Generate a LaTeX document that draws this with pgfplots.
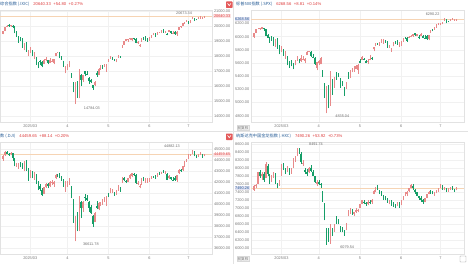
\documentclass[border=0pt]{standalone}
\usepackage{fontspec}
\setmainfont{Liberation Sans}
\newfontfamily\cjk{Noto Sans CJK SC}
\usepackage{pgfplots}
\usepackage{pgfplotstable}
\pgfplotsset{compat=1.18}
\definecolor{upc}{RGB}{232,138,138}
\definecolor{dnc}{RGB}{22,158,104}
\definecolor{gridc}{RGB}{241,241,241}
\definecolor{linec}{RGB}{226,226,226}
\definecolor{tickc}{RGB}{120,120,120}
\definecolor{titc}{RGB}{38,92,150}
\definecolor{numc}{RGB}{222,60,60}
\definecolor{curl}{RGB}{246,212,180}
\definecolor{curbgl}{RGB}{252,228,228}
\definecolor{curbgr}{RGB}{226,226,242}
\definecolor{annc}{RGB}{110,110,110}

% i open high low close
\pgfplotstableread{
i o h l c
0 19480 19665 19440 19649
1 19680 19950 19650 19945
2 19950 20045 19930 20026
3 20070 20110 19960 20041
4 20000 20070 19950 20056
5 20020 20040 19840 19962
6 19970 19990 19500 19524
7 19600 19650 19260 19286
8 19260 19310 18900 19026
9 19100 19270 18980 19075
10 19180 19210 18520 18544
11 18550 18860 18380 18847
12 18900 18960 18290 18350
13 18190 18430 17970 18285
14 18300 18620 18180 18553
15 18280 18420 18000 18069
16 18000 18280 17770 18196
17 17900 17920 17400 17468
18 17450 17620 17200 17436
19 17680 17750 17400 17648
20 17630 17660 17240 17303
21 17480 17790 17450 17754
22 17720 17910 17650 17808
23 17730 17740 17440 17504
24 17560 17890 17530 17750
25 17600 17830 17590 17692
26 17520 17800 17450 17784
27 18020 18200 17980 18188
28 18220 18300 18180 18272
29 18230 18260 17850 17899
30 17880 17980 17760 17804
31 17690 17700 17300 17323
32 17040 17310 16850 17299
33 17200 17480 17100 17450
34 17260 17660 17240 17601
35 16690 16890 16540 16551
36 16200 16300 15570 15588
37 14900 16300 14784 15603
38 16200 16310 15200 15268
39 15200 17140 15180 17125
40 16750 16790 16000 16387
41 16400 16750 16280 16724
42 17000 17020 16640 16832
43 16830 16970 16750 16823
44 16550 16620 16150 16307
45 16400 16440 16200 16287
46 16080 16100 15740 15870
47 16050 16340 16030 16300
48 16890 17000 16620 16708
49 16750 17180 16720 17166
50 17170 17390 17080 17383
51 17380 17430 17150 17366
52 17300 17480 17280 17461
53 17180 17470 16950 17446
54 17670 17800 17620 17710
55 17840 18000 17820 17978
56 17890 17950 17760 17844
57 17720 17780 17640 17690
58 17720 17800 17580 17738
59 17900 18080 17840 17929
60 17950 17990 17880 17929
61 18650 18710 18550 18708
62 18750 19020 18740 19010
63 19020 19160 18990 19146
64 19050 19120 18950 19112
65 19110 19220 19040 19211
66 19050 19220 19020 19215
67 19200 19220 19080 19143
68 19110 19180 18840 18873
69 18850 19020 18830 18925
70 18650 18820 18620 18737
71 18950 19200 18940 19199
72 19200 19250 19080 19101
73 19330 19350 18990 19176
74 19130 19170 18960 19114
75 19050 19250 18980 19243
76 19220 19420 19190 19399
77 19410 19500 19390 19460
78 19470 19560 19260 19299
79 19440 19570 19410 19530
80 19560 19620 19530 19591
81 19600 19730 19560 19715
82 19750 19780 19550 19615
83 19570 19680 19550 19662
84 19450 19550 19370 19407
85 19600 19720 19580 19701
86 19650 19690 19490 19521
87 19520 19650 19490 19546
88 19630 19640 19420 19447
89 19440 19640 19350 19631
90 19760 19920 19740 19913
91 19950 19990 19880 19974
92 20000 20180 19990 20168
93 20210 20280 20160 20273
94 20340 20380 20280 20370
95 20300 20320 20100 20202
96 20200 20400 20180 20394
97 20460 20620 20450 20601
98 20510 20530 20330 20412
99 20450 20490 20370 20418
100 20500 20630 20480 20611
101 20600 20673.34 20490 20630
102 20490 20600 20470 20586
103 20550 20660 20520 20640.33
}\ixic

\pgfplotstableread{
i o h l c
0 6000 6055 5985 6051
1 6060 6117 6052 6115
2 6115 6128 6110 6115
3 6121 6130 6103 6129
4 6117 6147 6111 6144
5 6134 6134 6085 6117
6 6114 6115 6009 6013
7 6027 6044 5977 5983
8 5982 5993 5909 5955
9 5970 6010 5937 5956
10 5981 5994 5858 5861
11 5856 5959 5837 5955
12 5968 5986 5810 5850
13 5811 5866 5732 5778
14 5781 5860 5762 5843
15 5787 5812 5711 5739
16 5726 5783 5667 5770
17 5705 5705 5565 5615
18 5603 5636 5529 5572
19 5624 5642 5547 5599
20 5594 5598 5505 5522
21 5563 5645 5563 5639
22 5635 5704 5628 5675
23 5655 5660 5598 5615
24 5632 5715 5622 5675
25 5646 5711 5640 5663
26 5630 5672 5598 5668
27 5718 5775 5718 5768
28 5775 5786 5763 5777
29 5772 5776 5694 5712
30 5696 5733 5682 5693
31 5679 5685 5572 5581
32 5527 5620 5489 5612
33 5597 5651 5572 5633
34 5581 5695 5578 5671
35 5492 5500 5390 5397
36 5293 5293 5069 5074
37 4954 5246 4835.04 5062
38 5193 5267 4911 4983
39 4966 5481 4950 5457
40 5353 5353 5115 5268
41 5255 5381 5221 5363
42 5441 5459 5349 5406
43 5412 5450 5387 5397
44 5335 5367 5220 5276
45 5305 5328 5256 5283
46 5232 5233 5101 5158
47 5207 5309 5207 5288
48 5395 5469 5356 5376
49 5381 5489 5372 5485
50 5489 5528 5456 5525
51 5529 5553 5468 5529
52 5508 5571 5505 5561
53 5499 5581 5434 5569
54 5625 5659 5597 5604
55 5646 5700 5645 5687
56 5655 5683 5644 5650
57 5625 5641 5598 5607
58 5613 5655 5592 5631
59 5657 5720 5641 5664
60 5679 5691 5646 5660
61 5807 5845 5778 5844
62 5855 5906 5854 5887
63 5895 5906 5876 5892
64 5880 5917 5865 5917
65 5929 5959 5907 5958
66 5902 5969 5895 5964
67 5944 5953 5909 5941
68 5922 5939 5830 5845
69 5841 5878 5826 5842
70 5782 5829 5768 5803
71 5854 5924 5854 5922
72 5925 5929 5886 5889
73 5939 5944 5876 5912
74 5903 5922 5842 5912
75 5897 5937 5862 5936
76 5938 5981 5922 5970
77 5979 5990 5966 5971
78 5985 5999 5921 5939
79 5987 6017 5987 6000
80 6005 6021 5993 6006
81 6010 6043 6000 6038
82 6049 6060 6013 6022
83 6010 6046 6006 6045
84 6000 6027 5963 5977
85 6005 6051 6005 6033
86 6012 6024 5975 5982
87 5987 6018 5971 5981
88 6004 6019 5953 5967
89 5970 6026 5943 6025
90 6062 6101 6062 6092
91 6105 6109 6081 6092
92 6112 6146 6108 6141
93 6151 6187 6133 6173
94 6193 6215 6177 6205
95 6187 6210 6177 6198
96 6193 6227 6188 6227
97 6243 6285 6241 6279
98 6257 6262 6201 6230
99 6238 6242 6217 6226
100 6240 6269 6235 6263
101 6267 6290.22 6250 6280
102 6255 6269 6249 6260
103 6251 6272 6245 6268.56
}\spx

\pgfplotstableread{
i o h l c
0 44100 44400 43900 44368
1 44400 44750 44350 44711
2 44700 44750 44500 44546
3 44560 44650 44350 44556
4 44500 44680 44400 44628
5 44600 44620 43900 44177
6 44150 44200 43400 43428
7 43450 43700 43350 43461
8 43450 43700 43200 43621
9 43650 43800 43300 43433
10 43500 43700 43200 43240
11 43250 43880 42950 43841
12 43850 44000 43000 43191
13 43100 43250 42100 42521
14 42550 43100 42300 43006
15 42900 43000 42300 42579
16 42550 42900 42200 42802
17 42600 42700 41800 41912
18 41900 42100 41250 41433
19 41600 41800 41150 41350
20 41300 41400 40700 40814
21 40900 41550 40880 41488
22 41500 41900 41450 41842
23 41800 41850 41400 41581
24 41600 42100 41550 41965
25 41900 42200 41700 41953
26 41800 42050 41550 41985
27 42300 42700 42250 42583
28 42600 42700 42400 42588
29 42600 42800 42300 42455
30 42400 42500 42100 42300
31 42200 42250 41550 41584
32 41300 42050 41100 42002
33 41900 42100 41550 41989
34 41800 42350 41700 42226
35 41500 41600 40500 40546
36 40300 40400 38300 38315
37 37500 38900 36611.78 37966
38 38900 39300 37500 37646
39 37600 40700 37500 40609
40 40200 40300 38700 39594
41 39600 40300 39300 40213
42 40600 40900 40300 40525
43 40500 40800 40300 40369
44 40200 40300 39300 39669
45 39700 39900 39100 39142
46 38900 38950 37900 38170
47 38400 39300 38350 39187
48 39800 40300 39500 39607
49 39500 40150 39400 40093
50 40000 40200 39800 40114
51 40100 40400 39900 40228
52 40200 40600 40150 40528
53 40300 40700 39800 40669
54 40800 41000 40600 40753
55 41000 41400 40950 41317
56 41200 41350 41000 41219
57 41000 41100 40750 40829
58 40900 41250 40800 41114
59 41300 41700 41200 41368
60 41400 41500 41100 41250
61 42000 42450 41900 42410
62 42300 42400 42050 42141
63 42100 42200 41900 42052
64 42000 42350 41950 42323
65 42300 42700 42250 42655
66 42500 42800 42400 42792
67 42700 42800 42550 42677
68 42600 42700 41800 41860
69 41850 42050 41700 41859
70 41500 41800 41400 41603
71 41800 42350 41750 42343
72 42350 42450 42050 42099
73 42200 42300 41900 42216
74 42100 42300 41900 42270
75 42250 42350 42000 42306
76 42300 42550 42250 42520
77 42500 42550 42350 42428
78 42450 42600 42250 42319
79 42500 42800 42450 42763
80 42800 42850 42650 42762
81 42800 42900 42700 42867
82 42900 43100 42800 42866
83 42850 43000 42700 42968
84 42700 42800 42150 42198
85 42300 42600 42250 42515
86 42400 42450 42150 42216
87 42200 42400 42100 42172
88 42300 42500 42100 42207
89 42200 42600 42000 42582
90 42800 43150 42750 43089
91 43100 43150 42900 42983
92 43050 43400 43000 43387
93 43400 43850 43350 43819
94 43900 44100 43800 44095
95 44100 44550 44050 44495
96 44450 44550 44350 44485
97 44550 44882.13 44500 44829
98 44700 44750 44300 44406
99 44400 44450 44150 44241
100 44300 44500 44250 44458
101 44500 44700 44400 44651
102 44500 44550 44200 44372
103 44350 44500 44300 44459.65
}\dji

\pgfplotstableread{
i o h l c
0 7450 7560 7420 7530
1 7540 7600 7480 7560
2 7600 7900 7580 7880
3 7880 7950 7750 7780
4 7800 7880 7700 7830
5 7850 7900 7650 7700
6 7750 8150 7740 8080
7 8050 8100 7800 7850
8 7800 7850 7600 7650
9 7680 7820 7640 7780
10 7800 7900 7750 7880
11 7850 7860 7600 7640
12 7600 7620 7480 7520
13 7600 7700 7550 7680
14 7800 8100 7780 8060
15 8050 8120 7950 8000
16 7980 8000 7850 7900
17 7950 8050 7880 7950
18 7900 7980 7820 7870
19 7900 8000 7850 7980
20 8000 8250 7990 8220
21 8250 8300 8150 8280
22 8300 8480 8280 8450
23 8440 8491.74 8350 8400
24 8350 8380 8100 8150
25 8100 8180 8050 8120
26 7950 8000 7850 7880
27 7900 7960 7800 7850
28 7880 8020 7860 8000
29 8000 8060 7900 7920
30 7900 7950 7780 7800
31 7780 7800 7620 7640
32 7600 7680 7540 7650
33 7650 7700 7560 7600
34 7580 7620 7500 7560
35 7400 7420 7150 7180
36 7100 7120 6680 6700
37 6400 6500 6079.54 6200
38 6350 6500 6150 6200
39 6250 6600 6100 6550
40 6450 6500 6300 6380
41 6420 6600 6400 6560
42 6700 6800 6600 6650
43 6650 6720 6580 6620
44 6500 6550 6400 6450
45 6480 6520 6380 6420
46 6400 6450 6300 6380
47 6450 6620 6430 6600
48 6800 6950 6780 6900
49 6880 6980 6850 6950
50 6920 6960 6820 6850
51 6850 6900 6780 6880
52 6900 6980 6870 6950
53 6920 6960 6880 6930
54 7000 7100 6980 7080
55 7100 7200 7080 7180
56 7150 7180 7080 7120
57 7120 7150 7050 7080
58 7100 7180 7060 7150
59 7130 7200 7080 7120
60 7150 7220 7100 7200
61 7350 7450 7330 7420
62 7420 7520 7400 7500
63 7500 7560 7440 7460
64 7420 7450 7340 7360
65 7380 7420 7300 7330
66 7300 7320 7200 7250
67 7260 7300 7180 7220
68 7200 7250 7120 7150
69 7150 7200 7080 7180
70 7150 7180 7050 7080
71 7100 7150 7020 7050
72 7050 7100 6980 7000
73 7050 7150 7030 7120
74 7100 7150 7000 7050
75 7080 7200 7060 7180
76 7200 7300 7180 7280
77 7300 7380 7280 7350
78 7350 7420 7300 7400
79 7420 7500 7400 7480
80 7500 7580 7480 7560
81 7550 7600 7450 7480
82 7450 7470 7350 7380
83 7380 7400 7280 7300
84 7280 7300 7200 7230
85 7250 7280 7150 7180
86 7200 7220 7100 7130
87 7150 7250 7130 7230
88 7250 7350 7230 7330
89 7350 7420 7330 7400
90 7420 7450 7350 7380
91 7380 7420 7330 7360
92 7350 7400 7300 7380
93 7380 7450 7360 7420
94 7420 7500 7400 7480
95 7500 7580 7480 7560
96 7540 7560 7450 7470
97 7470 7520 7430 7500
98 7480 7500 7400 7420
99 7420 7480 7400 7450
100 7460 7520 7440 7500
101 7490 7530 7440 7460
102 7450 7470 7400 7436.34
103 7440 7510 7430 7490.26
}\hxc

% wick and body of every candle: pgfplots quiver, coloured by up/down through the colormap
\newcommand{\candles}[1]{%
\addplot[forget plot, point meta=explicit,
  quiver={u=0, v=\thisrow{h}-\thisrow{l}, colored=mapped color,
    every arrow/.append style={-, line width=0.35bp}}]
  table[x=i, y=l, meta expr={\thisrow{c}>=\thisrow{o}}] {#1};
\addplot[forget plot, point meta=explicit,
  quiver={u=0, v=\thisrow{c}-\thisrow{o}, colored=mapped color,
    every arrow/.append style={-, line width=1.2bp}}]
  table[x=i, y=o, meta expr={\thisrow{c}>=\thisrow{o}}] {#1};
}

\pgfplotsset{
  kstyle/.style={
    scale only axis, height=112bp, xmin=-1.5, xmax=107,
    colormap={updown}{color=(dnc) color=(upc)},
    point meta min=0, point meta max=1,
    axis line style={draw=linec, line width=0.4bp},
    xtick={14,33,54,75,95}, xticklabels={2025/03,4,5,6,7},
    xmajorgrids, ymajorgrids, grid style={draw=gridc, line width=0.35bp},
    major tick length=0pt,
    tick label style={font=\fontsize{3.9}{4}\selectfont, text=tickc},
    xticklabel style={inner sep=1bp, yshift=-1.2bp},
    yticklabel style={inner sep=0.6bp,
      /pgf/number format/fixed, /pgf/number format/fixed zerofill,
      /pgf/number format/precision=2, /pgf/number format/1000 sep={}},
    /pgf/number format/assume math mode=true,
    scaled y ticks=false,
    clip=true,
    every axis title shift=0pt,
    title style={at={(axis description cs:0,1)}, anchor=base west,
      inner sep=0pt, yshift=4.3bp, font=\fontsize{4.2}{5}\selectfont},
  },
  lstyle/.style={kstyle, width=212bp, yticklabel pos=right,
    yticklabel style={anchor=west, xshift=1.2bp},
    extra y tick style={grid=none, yticklabel style={fill=curbgl, text=numc}}},
  rstyle/.style={kstyle, width=213bp, yticklabel pos=left,
    yticklabel style={anchor=east, xshift=-1bp},
    title style={xshift=-15bp},
    extra y tick style={grid=none, yticklabel style={fill=curbgr, text=titc}}},
}
\newcommand{\annot}[1]{{\fontsize{3.8}{4}\selectfont\color{annc}#1}}

\begin{document}
\begin{tikzpicture}[x=1bp, y=1bp]
\useasboundingbox (0,0) rectangle (468,264);
\fill[white] (0,0) rectangle (468,264);
% dividers
\draw[linec, line width=0.5bp] (233,0) -- (233,264);
\draw[linec, line width=0.5bp] (0,132.5) -- (468,132.5);

% ---------- Nasdaq composite ----------
\begin{axis}[lstyle, at={(0bp,142bp)}, anchor=south west,
  ymin=13600, ymax=21067, ytick={14000,15000,...,21000},
  extra y ticks={20640.33},
  title={{\cjk\color{titc}综合指数 (.IXIC)}\hspace{4bp}{\color{numc}20640.33\hspace{2.5bp}+54.80\hspace{2.5bp}+0.27\%}}]
\addplot[curl, line width=0.5bp, forget plot] coordinates {(-1.5,20640.33) (107,20640.33)};
\candles{\ixic}
\node at (axis cs:92.7,20867) {\annot{20673.34}};
\node at (axis cs:45.5,14533) {\annot{14784.03}};
\end{axis}

% ---------- S&P 500 ----------
\begin{axis}[rstyle, at={(251bp,142bp)}, anchor=south west,
  ymin=4704, ymax=6405, ytick={4800,5000,...,6200},
  extra y ticks={6268.56},
  title={{\cjk\color{titc}标普500指数 (.SPX)}\hspace{4bp}{\color{numc}6268.56\hspace{2.5bp}+8.81\hspace{2.5bp}+0.14\%}}]
\addplot[curl, line width=0.5bp, forget plot] coordinates {(-1.5,6268.56) (107,6268.56)};
\candles{\spx}
\node at (axis cs:91,6344) {\annot{6290.22}};
\node at (axis cs:45,4795) {\annot{4835.04}};
\end{axis}

% ---------- Dow Jones ----------
\begin{axis}[lstyle, at={(0bp,10bp)}, anchor=south west,
  ymin=35456, ymax=45607, ytick={36000,37000,...,45000},
  extra y ticks={44459.65},
  title={{\cjk\color{titc}数 (.DJI)}\hspace{4bp}{\color{numc}44459.65\hspace{2.5bp}+88.14\hspace{2.5bp}+0.20\%}}]
\addplot[curl, line width=0.5bp, forget plot] coordinates {(-1.5,44459.65) (107,44459.65)};
\candles{\dji}
\node at (axis cs:86.5,45245) {\annot{44882.13}};
\node at (axis cs:45,36363) {\annot{36611.78}};
\end{axis}

% ---------- Golden Dragon China ----------
\begin{axis}[rstyle, at={(251bp,10bp)}, anchor=south west,
  ymin=5842, ymax=8642, ytick={6000,6200,...,8600},
  extra y ticks={7490.26},
  title={{\cjk\color{titc}纳斯达克中国金龙指数 (.HXC)}\hspace{4bp}{\color{numc}7490.26\hspace{2.5bp}+53.92\hspace{2.5bp}+0.73\%}}]
\addplot[curl, line width=0.5bp, forget plot] coordinates {(-1.5,7490.26) (107,7490.26)};
\candles{\hxc}
\node at (axis cs:31.6,8575) {\annot{8491.74}};
\node at (axis cs:47.5,6000) {\annot{6079.54}};
\end{axis}

% decorations: icons and buttons
\fill[numc!85, rounded corners=0.6bp] (226,256) rectangle (232.5,262.5);
\draw[white, line width=0.6bp] (227.6,260.6) -- (229.25,258.4) -- (230.9,260.6);
\fill[numc!85, rounded corners=0.6bp] (226,124) rectangle (232.5,130.5);
\draw[white, line width=0.6bp] (227.6,128.6) -- (229.25,126.4) -- (230.9,128.6);
\node[fill=black!6, draw=black!15, line width=0.3bp, inner sep=0.8bp, font=\fontsize{3.6}{4}\selectfont\cjk, text=tickc] at (243,136) {前复权};
\node[fill=black!6, draw=black!15, line width=0.3bp, inner sep=0.8bp, font=\fontsize{3.6}{4}\selectfont\cjk, text=tickc] at (243,5) {前复权};
\draw[black!35, line width=0.4bp, rounded corners=0.5bp] (460,2) rectangle (466,8);
\end{tikzpicture}
\end{document}
